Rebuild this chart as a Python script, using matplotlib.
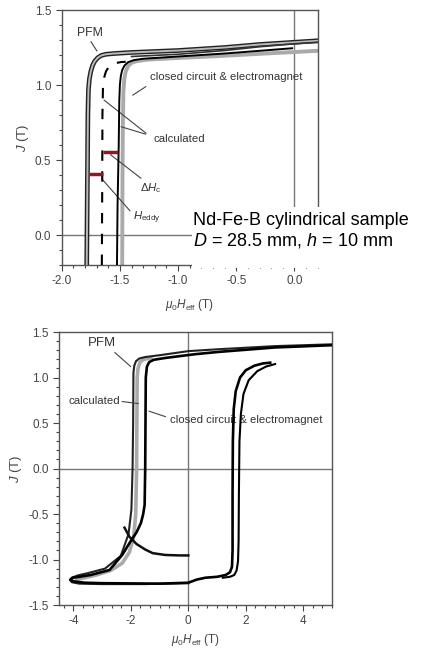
import matplotlib
matplotlib.use('Agg')
import matplotlib.pyplot as plt
from matplotlib.ticker import MultipleLocator
from matplotlib.patches import Rectangle

plt.rcParams['font.family'] = ['Liberation Sans', 'DejaVu Sans']
plt.rcParams['mathtext.fontset'] = 'custom'
plt.rcParams['mathtext.rm'] = 'Liberation Sans'
plt.rcParams['mathtext.it'] = 'Liberation Sans:italic'
plt.rcParams['axes.unicode_minus'] = False

# ---- top panel: zoom on the demagnetising quadrant ----
pfm_x = [-1.785, -1.78, -1.775, -1.77, -1.762, -1.75, -1.735, -1.715, -1.69, -1.66, -1.62, -1.55, -1.4,
         -1.0, -0.6, -0.3, 0.0, 0.2]
pfm_y = [-0.2, 0.3, 0.8, 0.97, 1.04, 1.09, 1.13, 1.16, 1.182, 1.197, 1.205, 1.21, 1.217,
         1.23, 1.25, 1.27, 1.285, 1.295]

cc_x = [-1.48, -1.478, -1.475, -1.47, -1.462, -1.45, -1.43, -1.40, -1.35, -1.25, -1.0, -0.6, -0.2, 0.2]
cc_y = [-0.2, 0.3, 0.7, 0.95, 1.04, 1.09, 1.125, 1.148, 1.16, 1.17, 1.18, 1.195, 1.212, 1.228]

calc_x = [-1.525, -1.52, -1.51, -1.505, -1.50, -1.492, -1.48, -1.46, -1.43, -1.38, -1.3, -1.0, -0.6, -0.3, -0.02]
calc_y = [-0.2, 0.2, 0.6, 0.9, 1.0, 1.06, 1.1, 1.13, 1.152, 1.166, 1.175, 1.19, 1.21, 1.228, 1.245]

calc2_x = [-1.40, -1.0, -0.6, -0.3, 0.0, 0.2]
calc2_y = [1.19, 1.205, 1.23, 1.255, 1.275, 1.285]

dash_x = [-1.655, -1.652, -1.65, -1.645, -1.635, -1.62, -1.60, -1.57, -1.53, -1.49, -1.45]
dash_y = [-0.2, 0.3, 0.8, 1.0, 1.05, 1.09, 1.115, 1.135, 1.147, 1.153, 1.155]

dhc_x = [-1.648, -1.512]
dhc_y = [0.555, 0.555]
heddy_x = [-1.765, -1.648]
heddy_y = [0.405, 0.405]

# ---- bottom panel: full loops ----
pfm2_x = [5.0, 3.0, 1.0, 0.0, -1.0, -1.5, -1.7, -1.82, -1.88, -1.91, -1.92, -1.94, -1.98, -2.08, -2.35,
          -2.9, -3.5, -3.85, -4.05, -4.12, -4.05, -3.8, -3.0, -1.5, 0.0]
pfm2_y = [1.365, 1.345, 1.31, 1.29, 1.245, 1.225, 1.21, 1.18, 1.13, 1.05, 0.5, 0.0, -0.45, -0.72, -0.96,
          -1.1, -1.15, -1.175, -1.2, -1.225, -1.25, -1.265, -1.27, -1.27, -1.26]

ret_x = [-2.22, -2.05, -1.8, -1.5, -1.24, -0.8, -0.3, 0.0]
ret_y = [-0.65, -0.75, -0.83, -0.89, -0.93, -0.95, -0.955, -0.955]

calc3_x = [-1.3, -1.55, -1.68, -1.75, -1.78, -1.79, -1.8, -1.83, -1.9, -2.05, -2.3, -2.7, -3.2, -3.6, -3.9]
calc3_y = [1.215, 1.2, 1.17, 1.1, 1.0, 0.5, 0.0, -0.5, -0.75, -0.92, -1.04, -1.12, -1.17, -1.2, -1.22]

cc2_x = [5.0, 3.0, 1.0, 0.2, -0.3, -0.8, -1.2, -1.36, -1.44, -1.48, -1.5, -1.52, -1.57, -1.65, -1.8, -1.99,
         -2.3, -2.74, -3.4, -3.8, -4.03, -4.1, -4.0, -3.6, -3.0, -1.0, 0.0, 0.3, 0.6, 1.0, 1.3, 1.45, 1.52,
         1.54, 1.54, 1.55, 1.58, 1.65, 1.8, 2.0, 2.3, 2.6, 2.85]
cc2_y = [1.355, 1.33, 1.28, 1.255, 1.235, 1.215, 1.195, 1.17, 1.12, 1.0, 0.0, -0.4, -0.5, -0.6, -0.7, -0.79,
         -0.95, -1.115, -1.17, -1.19, -1.2, -1.22, -1.24, -1.255, -1.26, -1.265, -1.255, -1.22, -1.2, -1.19,
         -1.17, -1.14, -1.08, -0.9, -0.3, 0.3, 0.65, 0.85, 1.0, 1.08, 1.13, 1.155, 1.163]

cc3_x = [1.2, 1.45, 1.6, 1.68, 1.73, 1.75, 1.76, 1.78, 1.83, 1.92, 2.1, 2.4, 2.7, 3.02]
cc3_y = [-1.2, -1.19, -1.17, -1.12, -1.02, -0.8, -0.3, 0.3, 0.6, 0.82, 0.97, 1.07, 1.12, 1.148]

fig = plt.figure(figsize=(4.37, 6.5), dpi=100)
tick_col = '#444444'


def style(ax, xmaj, xmin, ymaj, ymin, xpad):
    ax.xaxis.set_major_locator(MultipleLocator(xmaj))
    ax.xaxis.set_minor_locator(MultipleLocator(xmin))
    ax.yaxis.set_major_locator(MultipleLocator(ymaj))
    ax.yaxis.set_minor_locator(MultipleLocator(ymin))
    ax.tick_params(which='both', direction='out', colors=tick_col, labelsize=8.5, width=0.8)
    ax.tick_params(which='major', length=4)
    ax.tick_params(which='minor', length=2)
    for s in ax.spines.values():
        s.set_color('#555555')
        s.set_linewidth(1.0)
    ax.axhline(0, color='#777777', lw=1.0, zorder=1)
    ax.axvline(0, color='#777777', lw=1.0, zorder=1)
    ax.set_xlabel(r'$\mu_0H_{\mathrm{eff}}$ (T)', fontsize=8.5, color=tick_col, labelpad=xpad)
    ax.set_ylabel(r'$J$ (T)', fontsize=9.5, color=tick_col, labelpad=3)


ann = dict(color='#333333', fontsize=8.2)
lk = dict(arrowstyle='-', color='#444444', lw=0.8)

# top
ax1 = fig.add_axes([0.1412, 0.5923, 0.5858, 0.3923])
ax1.set_xlim(-2.0, 0.2)
ax1.set_ylim(-0.2, 1.5)
style(ax1, 0.5, 0.1, 0.5, 0.1, 7)
ax1.xaxis.set_major_formatter(plt.FuncFormatter(lambda v, p: f'{v:.1f}'))

ax1.plot(pfm_x, pfm_y, color='#222222', lw=3.4, zorder=3)
ax1.plot(pfm_x, pfm_y, color='#bbbbbb', lw=1.4, zorder=3)
ax1.plot(cc_x, cc_y, color='#aaaaaa', lw=2.8, zorder=2)
ax1.plot(calc_x, calc_y, color='black', lw=1.4, zorder=4)
ax1.plot(calc2_x, calc2_y, color='#333333', lw=1.2, zorder=3)
ax1.plot(dash_x, dash_y, color='black', lw=1.5, ls=(0, (5, 5)), zorder=4)
ax1.plot(dhc_x, dhc_y, color='#8e1b1b', lw=2.5, solid_capstyle='butt', zorder=5)
ax1.plot(heddy_x, heddy_y, color='#8e1b1b', lw=2.5, solid_capstyle='butt', zorder=5)

ax1.text(-1.87, 1.35, 'PFM', color='#333333', fontsize=8.8, va='center')
ax1.annotate('', xy=(-1.684, 1.211), xytext=(-1.762, 1.305), arrowprops=lk)
ax1.text(-1.238, 1.053, 'closed circuit & electromagnet', va='center', **ann)
ax1.annotate('', xy=(-1.41, 0.922), xytext=(-1.256, 1.0), arrowprops=lk)
ax1.text(-1.21, 0.64, 'calculated', va='center', **ann)
ax1.annotate('', xy=(-1.655, 0.911), xytext=(-1.256, 0.667), arrowprops=lk)
ax1.annotate('', xy=(-1.512, 0.727), xytext=(-1.256, 0.667), arrowprops=lk)
ax1.text(-1.33, 0.313, r'$\Delta H_{\rm c}$', va='center', **ann)
ax1.annotate('', xy=(-1.6, 0.547), xytext=(-1.30, 0.367), arrowprops=lk)
ax1.text(-1.39, 0.113, r'$H_{\rm eddy}$', va='center', **ann)
ax1.annotate('', xy=(-1.67, 0.387), xytext=(-1.397, 0.147), arrowprops=lk)

# white box with the sample description
fig.patches.append(Rectangle((192 / 437, 1 - 268 / 650), 245 / 437, 61 / 650,
                             transform=fig.transFigure, facecolor='white', edgecolor='none', zorder=5))
fig.text(193 / 437, 1 - 212 / 650, 'Nd-Fe-B cylindrical sample\n$D$ = 28.5 mm, $h$ = 10 mm',
         fontsize=13, va='top', ha='left', linespacing=1.15, zorder=6)

# bottom
ax2 = fig.add_axes([0.135, 0.0692, 0.6247, 0.42])
ax2.set_xlim(-4.5, 5.0)
ax2.set_ylim(-1.5, 1.5)
style(ax2, 2, 1 / 3, 0.5, 0.1, 3)
ax2.yaxis.set_major_formatter(plt.FuncFormatter(lambda v, p: f'{v:.1f}'))

ax2.plot(calc3_x, calc3_y, color='#aaaaaa', lw=2.6, zorder=2)
ax2.plot(pfm2_x, pfm2_y, color='#222222', lw=1.5, zorder=3)
ax2.plot(ret_x, ret_y, color='#111111', lw=1.8, zorder=3)
ax2.plot(cc2_x, cc2_y, color='black', lw=1.9, zorder=4)
ax2.plot(cc3_x, cc3_y, color='black', lw=1.5, zorder=4)

ax2.text(-3.51, 1.376, 'PFM', color='#333333', fontsize=9.5, va='center')
ax2.annotate('', xy=(-1.93, 1.10), xytext=(-2.63, 1.295), arrowprops=lk)
ax2.text(-4.18, 0.745, 'calculated', va='center', **ann)
ax2.annotate('', xy=(-1.64, 0.71), xytext=(-2.40, 0.74), arrowprops=lk)
ax2.text(-0.62, 0.533, 'closed circuit & electromagnet', va='center', **ann)
ax2.annotate('', xy=(-1.46, 0.64), xytext=(-0.7, 0.56), arrowprops=lk)

fig.savefig('out.png', dpi=100)
